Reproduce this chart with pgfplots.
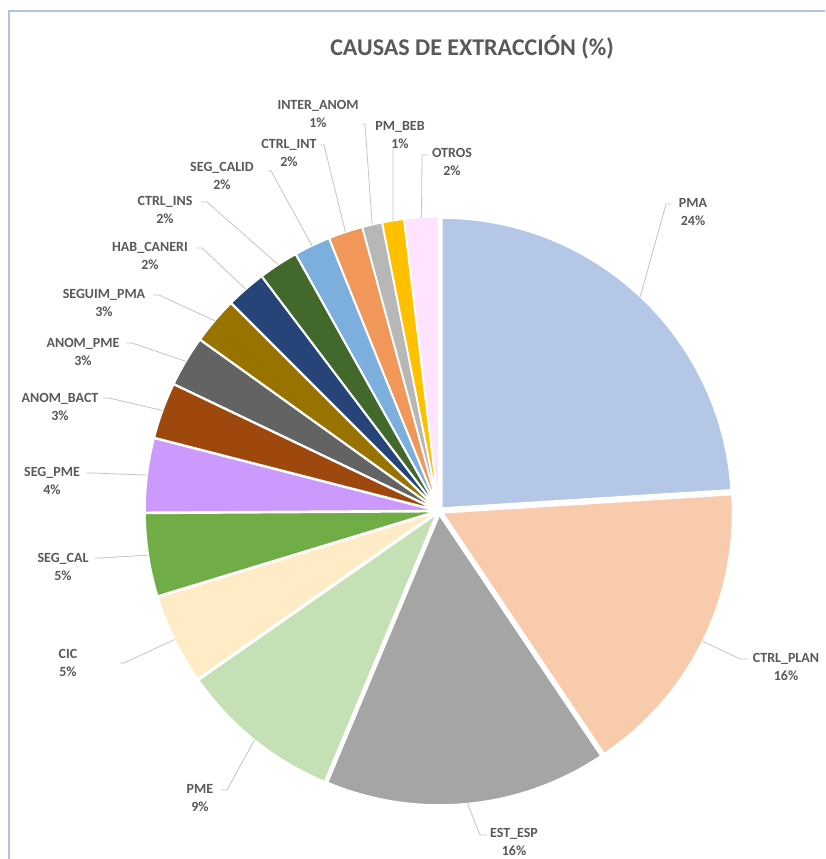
\documentclass[border=0pt]{standalone}
\usepackage{pgfplots}
\pgfplotsset{compat=1.18}
\usepackage{pgfplotstable}
\usepackage{fontspec}
\setmainfont{Carlito}

% slice colours, in data order
\definecolor{c0}{HTML}{B4C7E7}
\definecolor{c1}{HTML}{F8CBAD}
\definecolor{c2}{HTML}{A5A5A5}
\definecolor{c3}{HTML}{C5E0B4}
\definecolor{c4}{HTML}{FFEBC6}
\definecolor{c5}{HTML}{70AD47}
\definecolor{c6}{HTML}{CC99FF}
\definecolor{c7}{HTML}{9E480E}
\definecolor{c8}{HTML}{636363}
\definecolor{c9}{HTML}{997300}
\definecolor{c10}{HTML}{264478}
\definecolor{c11}{HTML}{43682B}
\definecolor{c12}{HTML}{7CAFDD}
\definecolor{c13}{HTML}{F1975A}
\definecolor{c14}{HTML}{B7B7B7}
\definecolor{c15}{HTML}{FFC000}
\definecolor{c16}{HTML}{FFE3FF}
\definecolor{txt}{HTML}{595959}
\definecolor{leader}{HTML}{C4C4C4}
\definecolor{frame}{HTML}{B0C2E8}

% val = share in %, lx/ly = label centre, sx/sy/tx = leader start and elbow
\pgfplotstableread[col sep=comma]{
name,pct,val,lx,ly,sx,sy,tx
PMA,24,24.0,693,212,671,204,666
CTRL\_PLAN,16,16.6,786,667,748,659,740
EST\_ESP,16,15.7,514,842,487,835,480
PME,9,9.0,200,798,221,790,227
CIC,5,5.0,68,663,120,663,124
SEG\_CAL,5,4.6,63,567,94,558,100
SEG\_PME,4,4.1,52,481,86,473,92
ANOM\_BACT,3,3.1,60,407,103,398,109
ANOM\_PME,3,2.8,83,352,126,343,132
SEGUIM\_PMA,3,2.6,104,303,153,295,159
HAB\_CANERI,2,2.2,150,256,196,248,202
CTRL\_INS,2,2.2,165,210,201,202,207
SEG\_CALID,2,2.0,222,176,267,171,271
CTRL\_INT,2,1.9,289,153,320,145,324
INTER\_ANOM,1,1.1,318,114,362,124,365
PM\_BEB,1,1.2,400,135,393,147,393
OTROS,2,1.9,452,162,428,155,422
}\piedata

\def\cx{439}
\def\cy{511}
\def\rr{290}
\def\dd{4}

\begin{document}
\begin{tikzpicture}
\useasboundingbox (0,0) rectangle (825pt,859pt);
\fill[white] (0,0) rectangle (825pt,859pt);
\begin{axis}[
  at={(0pt,0pt)}, anchor=south west,
  scale only axis, width=825pt, height=859pt,
  xmin=0, xmax=825, ymin=0, ymax=859,
  y dir=reverse,
  hide axis, clip=false,
]
\pgfplotsextra{
  \gdef\acur{90}
  \foreach \i in {0,...,16}{
    \pgfplotstablegetelem{\i}{val}\of\piedata \let\v\pgfplotsretval
    \pgfmathsetmacro\sa{\acur}
    \pgfmathsetmacro\sb{\acur-3.6*\v}
    \pgfmathsetmacro\m{(\sa+\sb)/2}
    \pgfmathsetmacro\ox{\cx+\dd*cos(\m)}
    \pgfmathsetmacro\oy{\cy-\dd*sin(\m)}
    \pgfmathsetmacro\px{\ox+\rr*cos(\sa)}
    \pgfmathsetmacro\py{\oy-\rr*sin(\sa)}
    \fill[fill=c\i, draw=white, line width=1.6pt, line join=round]
      (axis cs:\ox,\oy) -- (axis cs:\px,\py)
      arc[start angle=\sa, end angle=\sb, radius=\rr pt] -- cycle;
    % leader end on the slice edge at mid angle
    \pgfmathsetmacro\ex{\cx+(\rr+\dd)*cos(\m)}
    \pgfmathsetmacro\ey{\cy-(\rr+\dd)*sin(\m)}
    \pgfplotstablegetelem{\i}{sx}\of\piedata \let\sx\pgfplotsretval
    \pgfplotstablegetelem{\i}{sy}\of\piedata \let\sy\pgfplotsretval
    \pgfplotstablegetelem{\i}{tx}\of\piedata \let\tx\pgfplotsretval
    \draw[leader, line width=0.8pt]
      (axis cs:\sx,\sy) -- (axis cs:\tx,\sy) -- (axis cs:\ex,\ey);
    \pgfplotstablegetelem{\i}{lx}\of\piedata \let\lx\pgfplotsretval
    \pgfplotstablegetelem{\i}{ly}\of\piedata \let\ly\pgfplotsretval
    \pgfplotstablegetelem{\i}{name}\of\piedata \let\nm\pgfplotsretval
    \pgfplotstablegetelem{\i}{pct}\of\piedata \let\pc\pgfplotsretval
    \node[text=txt, align=center, inner sep=0pt,
      font=\fontsize{14}{17.5}\selectfont\bfseries]
      at (axis cs:\lx,\ly) {\nm\\\pc\%};
    \xdef\acur{\sb}
  }
  \node[text=txt, inner sep=0pt, font=\fontsize{24}{29}\selectfont\bfseries]
    at (axis cs:472,47) {CAUSAS DE EXTRACCIÓN (\%)};
  \draw[frame, line width=1.5pt] (axis cs:9,859) -- (axis cs:9,11) -- (axis cs:825,11);
}
\end{axis}
\end{tikzpicture}
\end{document}
